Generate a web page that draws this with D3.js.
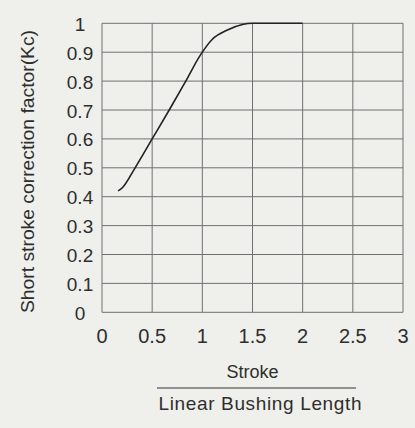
<!DOCTYPE html>
<html><head><meta charset="utf-8">
<script src="https://cdn.jsdelivr.net/npm/d3@7"></script>
<style>
html,body{margin:0;padding:0;background:#eff0eb;}
svg{display:block;}
text{font-family:"Liberation Sans",Arial,sans-serif;fill:#2e2e2e;}
</style></head>
<body>
<svg id="c" width="415" height="428"></svg>
<script>
const strokeRatio = [0.16, 0.2, 0.33, 0.5, 0.67, 0.835, 0.98, 1.1, 1.25, 1.4, 1.5, 2.0];
const kcValues    = [0.42, 0.43, 0.5, 0.6, 0.7, 0.8, 0.89, 0.945, 0.977, 0.996, 1.0, 1.0];
const xTicks = [0, 0.5, 1, 1.5, 2, 2.5, 3];
const xTickLabels = ["0", "0.5", "1", "1.5", "2", "2.5", "3"];
const yTicks = [0, 0.1, 0.2, 0.3, 0.4, 0.5, 0.6, 0.7, 0.8, 0.9, 1];
const yTickLabels = ["0", "0.1", "0.2", "0.3", "0.4", "0.5", "0.6", "0.7", "0.8", "0.9", "1"];
const yTitle = "Short stroke correction factor(Kc)";
const xTitleTop = "Stroke";
const xTitleBottom = "Linear Bushing Length";

const svg = d3.select("#c");
const x = d3.scaleLinear().domain([0, 3]).range([102, 403]);
const y = d3.scaleLinear().domain([0, 1]).range([312.3, 23.3]);

const grid = svg.append("g").attr("stroke", "#707070").attr("stroke-width", 1);
grid.selectAll("line.v").data(xTicks).enter().append("line")
  .attr("x1", d => x(d)).attr("x2", d => x(d)).attr("y1", y(0)).attr("y2", y(1));
grid.selectAll("line.h").data(yTicks).enter().append("line")
  .attr("y1", d => y(d)).attr("y2", d => y(d)).attr("x1", x(0)).attr("x2", x(3));

svg.append("g").selectAll("text").data(xTicks).enter().append("text")
  .attr("x", d => x(d)).attr("y", 343).attr("text-anchor", "middle")
  .attr("font-size", 20).text((d, i) => xTickLabels[i]);

svg.append("g").selectAll("text").data(yTicks).enter().append("text")
  .attr("x", 80).attr("y", d => y(d) + 7.5).attr("text-anchor", "middle")
  .attr("font-size", 19).text((d, i) => yTickLabels[i]);

const line = d3.line().x(d => x(d[0])).y(d => y(d[1])).curve(d3.curveMonotoneX);
svg.append("path").datum(strokeRatio.map((s, i) => [s, kcValues[i]]))
  .attr("d", line).attr("fill", "none").attr("stroke", "#222").attr("stroke-width", 1.6);

svg.append("text").attr("transform", "translate(34,171.5) rotate(-90)")
  .attr("text-anchor", "middle").attr("font-size", 17.5)
  .attr("textLength", 283).attr("lengthAdjust", "spacingAndGlyphs").text(yTitle);

svg.append("text").attr("x", 252.5).attr("y", 378).attr("text-anchor", "middle")
  .attr("font-size", 18).text(xTitleTop);
svg.append("line").attr("x1", 157).attr("x2", 356).attr("y1", 388).attr("y2", 388)
  .attr("stroke", "#333").attr("stroke-width", 1);
svg.append("text").attr("x", 260).attr("y", 410).attr("text-anchor", "middle")
  .attr("font-size", 19).attr("textLength", 203).attr("lengthAdjust", "spacing").text(xTitleBottom);
</script>
</body></html>
